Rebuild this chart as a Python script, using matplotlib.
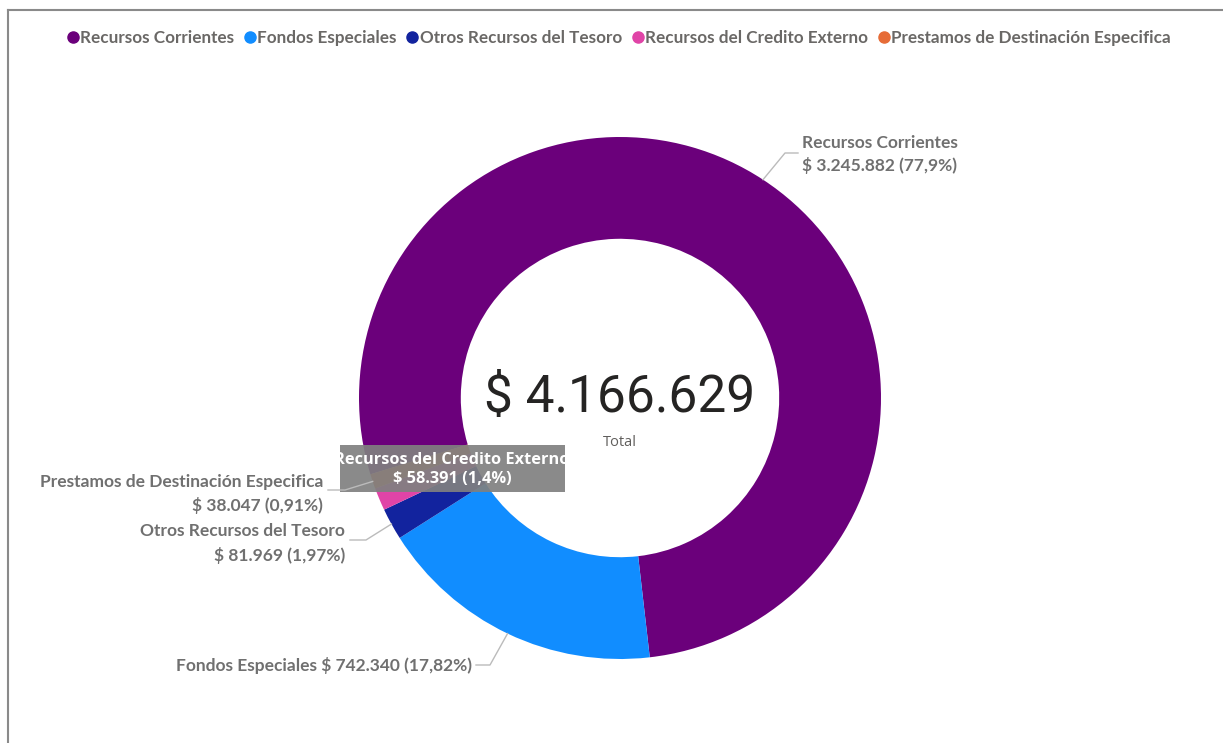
import matplotlib
matplotlib.use("Agg")
import matplotlib.pyplot as plt
from matplotlib.lines import Line2D
from matplotlib.patches import Rectangle
import numpy as np

# ---- data ----
categories = ["Recursos Corrientes", "Fondos Especiales", "Otros Recursos del Tesoro",
              "Recursos del Credito Externo", "Prestamos de Destinación Especifica"]
values = [3245882, 742340, 81969, 58391, 38047]
pct_labels = ["77,9%", "17,82%", "1,97%", "1,4%", "0,91%"]
value_labels = ["3.245.882", "742.340", "81.969", "58.391", "38.047"]
total_label = "$ 4.166.629"
colors = ["#6B007B", "#118DFF", "#12239E", "#E044A7", "#E66C37"]

W, H = 1223, 743
fig = plt.figure(figsize=(W / 100, H / 100), dpi=100)
fig.patch.set_facecolor("white")


def fx(x):
    return x / W


def fy(y):
    return 1 - y / H


# frame lines
fig.add_artist(Line2D([fx(8), fx(8)], [fy(10), fy(743)], color="#8a8a8a", lw=1.5))
fig.add_artist(Line2D([fx(8), fx(1223)], [fy(10), fy(10)], color="#8a8a8a", lw=1.5))

# donut axes
cx, cy, R = 620, 398, 261
ax = fig.add_axes([fx(cx - R), fy(cy + R), 2 * R / W, 2 * R / H])
startangle = 197
wedges, _ = ax.pie(values, colors=colors, startangle=startangle, counterclock=False,
                   radius=1.0, wedgeprops=dict(width=0.39, linewidth=0))
ax.set_xlim(-1, 1)
ax.set_ylim(-1, 1)
ax.set_aspect("equal")
ax.axis("off")

# center text
ax.text(0, 0.0, total_label, ha="center", va="center", fontsize=37,
        family="Roboto", fontweight="normal", color="#252423")
ax.text(0, -0.17, "Total", ha="center", va="center", fontsize=10.5,
        family="Open Sans", color="#605E5C")


def anchor_px(w, r=1.0):
    ang = np.deg2rad((w.theta1 + w.theta2) / 2)
    x, y = r * np.cos(ang), r * np.sin(ang)
    disp = ax.transData.transform((x, y))
    return disp[0], H - disp[1]


lab_color = "#666666"
lead_color = "#bbbbbb"
lab_font = dict(family="Lato", fontsize=12.5, fontweight="bold", color="#707070")

# Recursos Corrientes (right)
ax0, ay0 = anchor_px(wedges[0])
fig.add_artist(Line2D([fx(ax0), fx(785), fx(798)], [fy(ay0), fy(153), fy(153)],
                      color=lead_color, lw=1))
fig.text(fx(802), fy(143), categories[0], ha="left", va="center", **lab_font)
fig.text(fx(802), fy(166), f"$ {value_labels[0]} ({pct_labels[0]})", ha="left", va="center", **lab_font)

# Fondos Especiales (bottom left)
a1x, a1y = anchor_px(wedges[1])
fig.add_artist(Line2D([fx(a1x), fx(490), fx(476)], [fy(a1y), fy(665), fy(665)],
                      color=lead_color, lw=1))
fig.text(fx(472), fy(665), f"{categories[1]} $ {value_labels[1]} ({pct_labels[1]})",
         ha="right", va="center", **lab_font)

# Otros Recursos del Tesoro
a2x, a2y = anchor_px(wedges[2])
fig.add_artist(Line2D([fx(a2x), fx(366), fx(350)], [fy(a2y), fy(540), fy(540)],
                      color=lead_color, lw=1))
fig.text(fx(345), fy(531), categories[2], ha="right", va="center", **lab_font)
fig.text(fx(345), fy(555), f"$ {value_labels[2]} ({pct_labels[2]})", ha="right", va="center", **lab_font)

# Prestamos de Destinación Especifica
a4x, a4y = anchor_px(wedges[4])
fig.add_artist(Line2D([fx(a4x), fx(345), fx(328)], [fy(a4y), fy(490), fy(490)],
                      color=lead_color, lw=1))
fig.text(fx(323), fy(482), categories[4], ha="right", va="center", **lab_font)
fig.text(fx(323), fy(505), f"$ {value_labels[4]} ({pct_labels[4]})", ha="right", va="center", **lab_font)

# tooltip for Recursos del Credito Externo
box = Rectangle((fx(340), fy(492)), fx(225), 47 / H, transform=fig.transFigure,
                facecolor="#808080", edgecolor="none", alpha=0.92)
fig.add_artist(box)
t1 = fig.text(fx(452), fy(460), categories[3], ha="center", va="center",
              family="Open Sans", fontsize=11.8, fontweight="bold", color="white")
t2 = fig.text(fx(452), fy(479), f"$ {value_labels[3]} ({pct_labels[3]})", ha="center", va="center",
              family="Open Sans", fontsize=11.8, fontweight="bold", color="white")
t1.set_clip_path(box)
t2.set_clip_path(box)

# legend
handles = [Line2D([], [], marker="o", linestyle="none", markersize=8,
                  markerfacecolor=c, markeredgecolor=c) for c in colors]
leg = fig.legend(handles, categories, loc="upper center", bbox_to_anchor=(fx(618), fy(23)),
                 ncol=5, frameon=False, handletextpad=0.0, columnspacing=0.45,
                 handlelength=0.9, borderaxespad=0,
                 prop=dict(family="Lato", size=12.3, weight="bold"))
for t in leg.get_texts():
    t.set_color("#6a6866")

fig.savefig("out.png", dpi=100)
